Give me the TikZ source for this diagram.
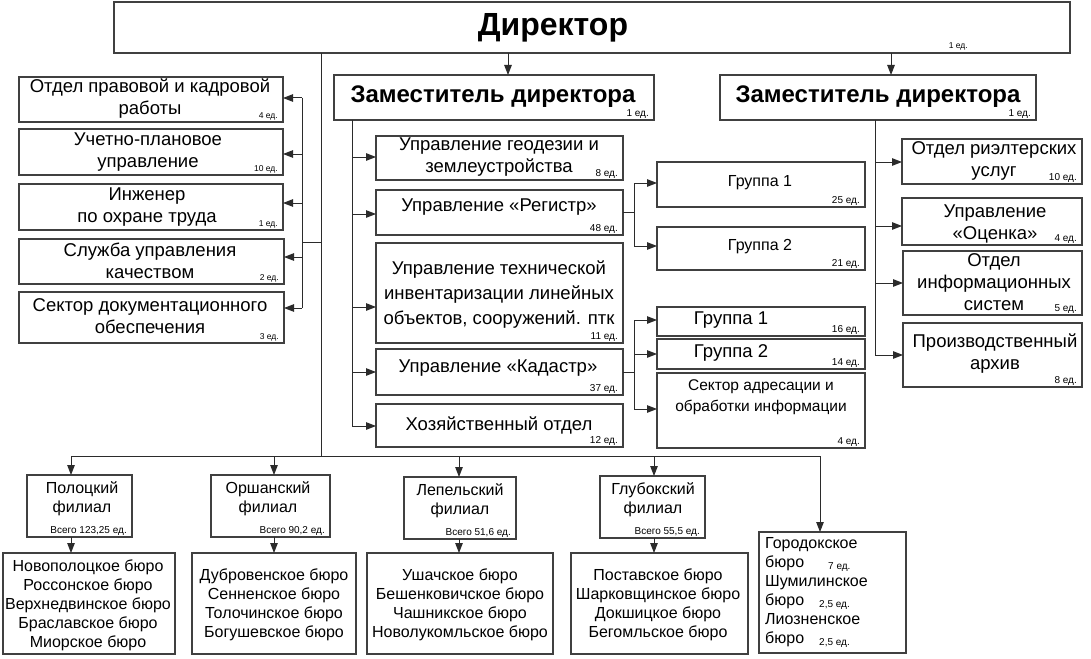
\documentclass[tikz,border=0pt]{standalone}
\usepackage{fontspec}
\setmainfont{Liberation Sans}
\usetikzlibrary{arrows.meta}
\definecolor{lc}{HTML}{2B2B2B}
\definecolor{bc}{HTML}{404040}
\tikzset{
  box/.style={draw=bc, line width=1.1pt, inner sep=0pt, outer sep=0pt, fill=white},
  ln/.style={draw=lc, line width=1pt},
  arr/.style={ln, -{Triangle[length=10pt,width=7.5pt]}},
  txt/.style={inner sep=0pt, align=center, font=\fontsize{18.5}{22}\selectfont},
  txtb/.style={inner sep=0pt, align=center, font=\fontsize{16}{19}\selectfont},
  sm/.style={inner sep=0pt, anchor=base east, font=\fontsize{10}{12}\selectfont},
  smm/.style={inner sep=0pt, anchor=base east, font=\fontsize{8.5}{10}\selectfont},
}
\newcommand\bx[5]{\node[box, minimum width={#4-#2}, minimum height={#5-#3}] (#1) at ({(#2+#4)/2},{(#3+#5)/2}) {};}
\newcommand\edl[3][sm]{\node[#1] (#2l) at ([xshift=-5pt,yshift=3.5pt]#2.south east) {#3};}
\begin{document}
\begin{tikzpicture}[x=1pt,y=-1pt]
\useasboundingbox[fill=white] (0,0) rectangle (1091,658);
% boxes
\bx{dir}{114}{2}{1070}{53}
\bx{dep1}{334}{75}{654}{120}
\bx{dep2}{720}{75}{1036}{120}
\bx{L1}{19}{77}{283}{122}
\bx{L2}{19}{129}{283}{175}
\bx{L3}{19}{184}{283}{230}
\bx{L4}{19}{239}{284}{284}
\bx{L5}{19}{292}{284}{343}
\bx{D1}{376}{136}{623}{180}
\bx{D2}{376}{190}{623}{235}
\bx{D3}{376}{243}{623}{343}
\bx{D4}{376}{349}{623}{395}
\bx{D5}{376}{404}{623}{447}
\bx{G1}{657}{162}{865}{207}
\bx{G2}{657}{227}{865}{270}
\bx{K1}{657}{307}{865}{336}
\bx{K2}{657}{339}{865}{369}
\bx{S}{657}{373}{865}{448}
\bx{R1}{902}{139}{1082}{184}
\bx{R2}{902}{198}{1082}{245}
\bx{R3}{903}{251}{1082}{315}
\bx{R4}{903}{323}{1082}{387}
\bx{F1}{27}{475}{132}{537}
\bx{F2}{211}{475}{330}{537}
\bx{F3}{404}{477}{516}{539}
\bx{F4}{600}{476}{705}{538}
\bx{B1}{3}{553}{175}{654}
\bx{B2}{192}{553}{356}{654}
\bx{B3}{367}{553}{553}{654}
\bx{B4}{571}{553}{748}{654}
\bx{B5}{759}{532}{906}{653}
% texts
\node[inner sep=0pt, font=\fontsize{32}{36}\selectfont\bfseries] (dirt) at (553,28) {Директор};
\node[inner sep=0pt, anchor=base east, font=\fontsize{8.5}{10}\selectfont] (dirl) at (968,49) {1 ед.};
\node[inner sep=0pt, font=\fontsize{24}{27}\selectfont\bfseries] (dep1t) at (493,97) {Заместитель директора};
\edl{dep1}{1 ед.}
\node[inner sep=0pt, font=\fontsize{24}{27}\selectfont\bfseries] (dep2t) at (878,97) {Заместитель директора};
\edl{dep2}{1 ед.}
\node[txt] (L1t) at (150,99) {Отдел правовой и кадровой\\работы};
\edl[smm]{L1}{4 ед.}
\node[txt] (L2t) at (148,152) {Учетно-плановое\\управление};
\edl[smm]{L2}{10 ед.}
\node[txt] (L3t) at (147,207) {Инженер\\по охране труда};
\edl[smm]{L3}{1 ед.}
\node[txt] (L4t) at (150,261) {Служба управления\\качеством};
\edl[smm]{L4}{2 ед.}
\node[txt] (L5t) at (150,316) {Сектор документационного\\обеспечения};
\edl[smm]{L5}{3 ед.}
\node[txt] (D1t) at (499,157) {Управление геодезии и\\землеустройства};
\edl{D1}{8 ед.}
\node[txt] (D2t) at (499,207) {Управление «Регистр»};
\edl{D2}{48 ед.}
\node[txt, font=\fontsize{18.5}{25}\selectfont] (D3t) at (499,295) {Управление технической\\инвентаризации линейных\\объектов, сооружений. птк};
\edl{D3}{11 ед.}
\node[txt] (D4t) at (498,368) {Управление «Кадастр»};
\edl{D4}{37 ед.}
\node[txt] (D5t) at (499,425) {Хозяйственный отдел};
\edl{D5}{12 ед.}
\node[txtb] (G1t) at (760,183) {Группа 1};
\edl{G1}{25 ед.}
\node[txtb] (G2t) at (760,247) {Группа 2};
\edl{G2}{21 ед.}
\node[txt] (K1t) at (731,320) {Группа 1};
\edl{K1}{16 ед.}
\node[txt] (K2t) at (731,353) {Группа 2};
\edl{K2}{14 ед.}
\node[txtb, font=\fontsize{15.5}{21}\selectfont] (St) at (761,397) {Сектор адресации и\\обработки информации};
\edl{S}{4 ед.}
\node[txt] (R1t) at (994,161) {Отдел риэлтерских\\услуг};
\edl{R1}{10 ед.}
\node[txt] (R2t) at (995,224) {Управление\\«Оценка»};
\edl{R2}{4 ед.}
\node[txt] (R3t) at (994,282) {Отдел\\информационных\\систем};
\edl{R3}{5 ед.}
\node[txt] (R4t) at (995,354) {Производственный\\архив};
\edl{R4}{8 ед.}
\node[txtb] (F1t) at (82,499) {Полоцкий\\филиал};
\edl{F1}{Всего 123,25 ед.}
\node[txtb] (F2t) at (268,499) {Оршанский\\филиал};
\edl{F2}{Всего 90,2 ед.}
\node[txtb] (F3t) at (460,501) {Лепельский\\филиал};
\edl{F3}{Всего 51,6 ед.}
\node[txtb] (F4t) at (653,500) {Глубокский\\филиал};
\edl{F4}{Всего 55,5 ед.}
\node[txtb] (B1t) at (88,605) {Новополоцкое бюро\\Россонское бюро\\Верхнедвинское бюро\\Браславское бюро\\Миорское бюро};
\node[txtb] (B2t) at (274,605) {Дубровенское бюро\\Сенненское бюро\\Толочинское бюро\\Богушевское бюро};
\node[txtb] (B3t) at (460,605) {Ушачское бюро\\Бешенковичское бюро\\Чашникское бюро\\Новолукомльское бюро};
\node[txtb] (B4t) at (658,605) {Поставское бюро\\Шарковщинское бюро\\Докшицкое бюро\\Бегомльское бюро};
\node[txtb, align=left, anchor=north west] (B5t) at (765,537) {Городокское\\бюро\\Шумилинское\\бюро\\Лиозненское\\бюро};
\node[inner sep=0pt, anchor=base west, font=\fontsize{10}{12}\selectfont] (B5a) at (828,569) {7 ед.};
\node[inner sep=0pt, anchor=base west, font=\fontsize{10}{12}\selectfont] (B5b) at (819,607) {2,5 ед.};
\node[inner sep=0pt, anchor=base west, font=\fontsize{10}{12}\selectfont] (B5c) at (819,645) {2,5 ед.};
% connectors: director
\coordinate (cA) at (508,60);
\draw[arr] (cA |- dir.south) -- (cA |- dep1.north);
\coordinate (cB) at (891,60);
\draw[arr] (cB |- dir.south) -- (cB |- dep2.north);
\coordinate (trunk) at (321,456);
\draw[ln] (trunk |- dir.south) -- (trunk);
% left column
\coordinate (lj) at (302,242);
\draw[ln] (trunk |- lj) -- (lj);
\coordinate (lt) at (302,98);
\coordinate (lb) at (302,308);
\draw[ln] (lt) -- (lb);
\foreach \n/\yy in {L1/98,L2/154,L3/203,L4/257,L5/308}{
  \coordinate (t) at (302,\yy);
  \draw[arr] (t) -- (\n.east |- t);
}
% deputy 1
\coordinate (d1b) at (352,426);
\draw[ln] (d1b |- dep1.south) -- (d1b);
\foreach \n/\yy in {D1/157,D2/214,D3/307,D4/372,D5/426}{
  \coordinate (t) at (352,\yy);
  \draw[arr] (t) -- (\n.west |- t);
}
% registr groups
\coordinate (rg) at (634,212);
\draw[ln] (D2.east |- rg) -- (rg);
\coordinate (rgt) at (634,183);
\coordinate (rgb) at (634,246);
\draw[ln] (rgt) -- (rgb);
\draw[arr] (rgt) -- (G1.west |- rgt);
\draw[arr] (rgb) -- (G2.west |- rgb);
% kadastr groups
\coordinate (kd) at (634,372);
\draw[ln] (D4.east |- kd) -- (kd);
\coordinate (kdt) at (634,320);
\coordinate (kdm) at (634,354);
\coordinate (kdb) at (634,409);
\draw[ln] (kdt) -- (kdb);
\draw[arr] (kdt) -- (K1.west |- kdt);
\draw[arr] (kdm) -- (K2.west |- kdm);
\draw[arr] (kdb) -- (S.west |- kdb);
% deputy 2
\coordinate (d2b) at (875,355);
\draw[ln] (d2b |- dep2.south) -- (d2b);
\foreach \n/\yy in {R1/162,R2/226,R3/283,R4/355}{
  \coordinate (t) at (875,\yy);
  \draw[arr] (t) -- (\n.west |- t);
}
% branches
\coordinate (bl) at (71,456);
\coordinate (br) at (820,456);
\draw[ln] (bl) -- (br);
\foreach \f/\b/\xx in {F1/B1/71,F2/B2/274,F3/B3/459,F4/B4/654}{
  \coordinate (t) at (\xx,456);
  \draw[arr] (t) -- (t |- \f.north);
  \draw[arr] (t |- \f.south) -- (t |- \b.north);
}
\draw[arr] (br) -- (br |- B5.north);
\end{tikzpicture}
\end{document}
